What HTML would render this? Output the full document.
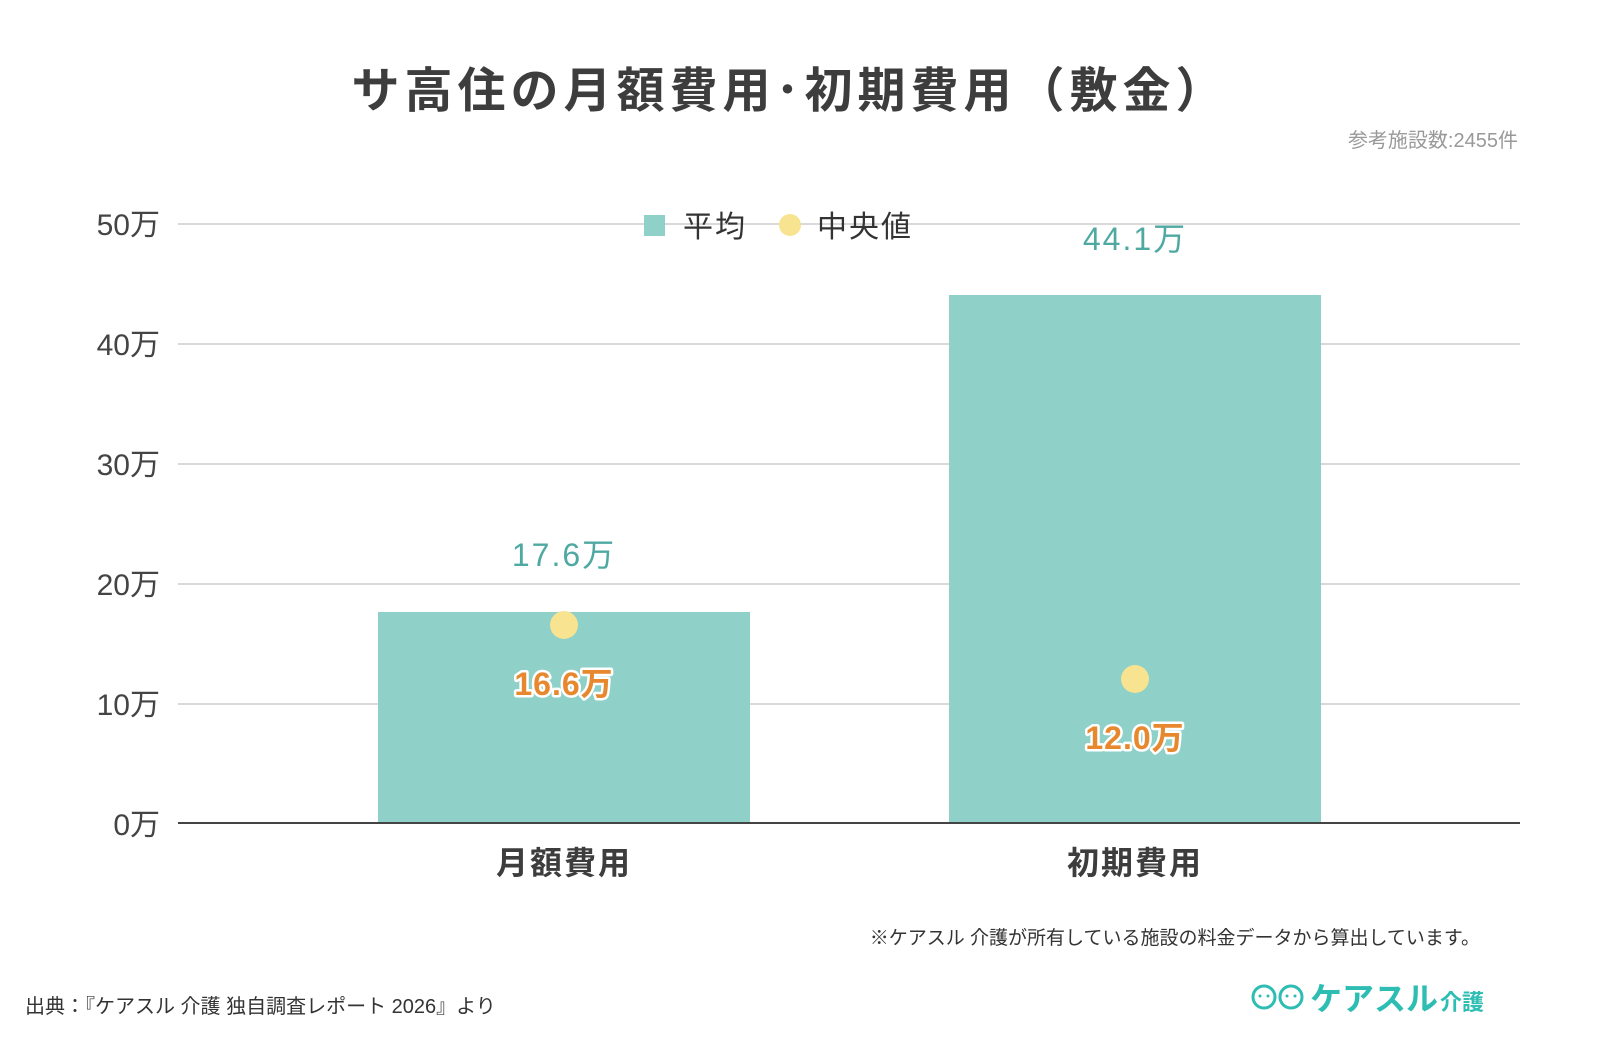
<!DOCTYPE html>
<html><head><meta charset="utf-8"><style>
body{margin:0;background:#fff}
svg{display:block}
text{font-family:"Liberation Sans","Noto Sans CJK JP",sans-serif}
</style></head><body>
<svg width="1600" height="1063" viewBox="0 0 1600 1063">
<text x="790" y="107" text-anchor="middle" font-size="48" font-weight="bold" fill="#3d3d3d" letter-spacing="5">サ高住の月額費用･初期費用（敷金）</text>
<text x="1518" y="147" text-anchor="end" font-size="20" fill="#999">参考施設数:2455件</text>
<g stroke="#d9d9d9" stroke-width="2">
<line x1="178" y1="224" x2="1520" y2="224"/>
<line x1="178" y1="344" x2="1520" y2="344"/>
<line x1="178" y1="464" x2="1520" y2="464"/>
<line x1="178" y1="584" x2="1520" y2="584"/>
<line x1="178" y1="704" x2="1520" y2="704"/>
</g>
<g font-size="30" fill="#444" text-anchor="end">
<text x="160" y="235">50万</text>
<text x="160" y="355">40万</text>
<text x="160" y="475">30万</text>
<text x="160" y="595">20万</text>
<text x="160" y="715">10万</text>
<text x="160" y="835">0万</text>
</g>
<rect x="378" y="612" width="372" height="211" fill="#8fd0c9"/>
<rect x="949" y="295" width="372" height="528" fill="#8fd0c9"/>
<line x1="178" y1="823" x2="1520" y2="823" stroke="#444" stroke-width="2"/>
<rect x="644" y="215" width="21" height="21" fill="#8fd0c9"/>
<text x="683" y="237" font-size="30" fill="#333" letter-spacing="2">平均</text>
<circle cx="790" cy="225" r="11" fill="#f8e391"/>
<text x="817" y="237" font-size="30" fill="#333" letter-spacing="2">中央値</text>
<text x="564" y="566" text-anchor="middle" font-size="32" fill="#4fa9a2" letter-spacing="2">17.6万</text>
<text x="1135" y="250" text-anchor="middle" font-size="32" fill="#4fa9a2" letter-spacing="2">44.1万</text>
<circle cx="564" cy="625" r="14" fill="#f8e391"/>
<circle cx="1135" cy="679" r="14" fill="#f8e391"/>
<g font-size="32" font-weight="bold" text-anchor="middle" fill="#e8882e" stroke="#fff" stroke-width="5" paint-order="stroke" stroke-linejoin="round" letter-spacing="1">
<text x="564" y="695">16.6万</text>
<text x="1135" y="749">12.0万</text>
</g>
<g font-size="32" font-weight="bold" text-anchor="middle" fill="#3d3d3d" letter-spacing="2">
<text x="564" y="874">月額費用</text>
<text x="1135" y="874">初期費用</text>
</g>
<text x="1480" y="944" text-anchor="end" font-size="19" fill="#333">※ケアスル 介護が所有している施設の料金データから算出しています。</text>
<text x="25" y="1013" font-size="20" fill="#333">出典：『ケアスル 介護 独自調査レポート 2026』より</text>
<g fill="none" stroke="#2dbdb2" stroke-width="3">
<circle cx="1264" cy="997" r="11"/>
<circle cx="1291" cy="997" r="11"/>
</g>
<g fill="#2dbdb2">
<circle cx="1260" cy="996" r="1.5"/><circle cx="1268" cy="996" r="1.5"/>
<circle cx="1287" cy="996" r="1.5"/><circle cx="1295" cy="996" r="1.5"/>
</g>
<text x="1310" y="1010" font-size="32" font-weight="bold" fill="#2dbdb2">ケアスル</text>
<text x="1440" y="1010" font-size="22" font-weight="bold" fill="#2dbdb2">介護</text>
</svg>
</body></html>
